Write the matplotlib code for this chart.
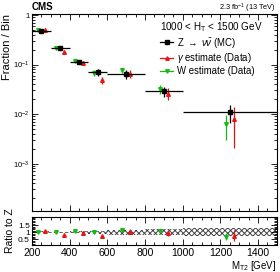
import numpy as np
import matplotlib
matplotlib.use("Agg")
import matplotlib.pyplot as plt
from matplotlib.ticker import MultipleLocator, LogLocator, NullFormatter, FixedLocator
import matplotlib.lines as mlines

plt.rcParams['font.family'] = ['Liberation Sans', 'DejaVu Sans']
plt.rcParams['mathtext.fontset'] = 'custom'
plt.rcParams['mathtext.rm'] = 'Liberation Sans'
plt.rcParams['mathtext.it'] = 'Liberation Sans:italic'
plt.rcParams['mathtext.bf'] = 'Liberation Sans:bold'
plt.rcParams['hatch.linewidth'] = 0.7

# ---- data ----
bin_edges = [200, 300, 400, 500, 600, 800, 1000, 1500]
z_mc = [0.48, 0.218, 0.112, 0.070, 0.064, 0.029, 0.0108]
z_err = [0.05, 0.016, 0.010, 0.010, 0.012, 0.007, 0.0043]
w_est = [0.50, 0.22, 0.12, 0.068, 0.077, 0.032, 0.0063]
w_err = [0.03, 0.012, 0.008, 0.009, 0.010, 0.006, 0.0033]
g_est = [0.51, 0.18, 0.11, 0.049, 0.066, 0.026, 0.0081]
g_err = [0.04, 0.015, 0.010, 0.008, 0.012, 0.007, 0.0060]
ratio_w = [1.03, 1.00, 1.08, 1.00, 1.17, 1.12, 0.65]
ratio_w_err = [0.06, 0.04, 0.06, 0.08, 0.12, 0.14, 0.22]
ratio_g = [1.06, 0.84, 0.97, 0.75, 1.05, 0.93, 0.77]
ratio_g_err = [0.08, 0.08, 0.10, 0.12, 0.16, 0.22, 0.40]
z_band = [0.07, 0.05, 0.07, 0.10, 0.19, 0.21, 0.27]
x_ticks = [200, 400, 600, 800, 1000, 1200, 1400]

edges = np.array(bin_edges, dtype=float)
centers = 0.5 * (edges[:-1] + edges[1:])
halfw = 0.5 * (edges[1:] - edges[:-1])
off = 20

fig = plt.figure(figsize=(2.8, 2.72), dpi=100)
ax = fig.add_axes([0.114, 0.224, 0.875, 0.723])
axr = fig.add_axes([0.114, 0.099, 0.875, 0.105])

# main panel
ax.errorbar(centers, z_mc, yerr=z_err, xerr=halfw, fmt='s', color='black',
            ms=3.5, lw=0.9, capsize=0, zorder=3)
ax.errorbar(centers + off, g_est, yerr=g_err, fmt='^', color='#ee1111',
            ms=2.6, lw=0.9, capsize=0, zorder=2)
ax.errorbar(centers - off, w_est, yerr=w_err, fmt='v', color='#11bb11',
            ms=2.6, lw=0.9, capsize=0, zorder=2)
ax.set_yscale('log')
ax.set_xlim(200, 1500)
ax.set_ylim(1.1e-4, 1.03)
ax.yaxis.set_major_locator(FixedLocator([1e-3, 1e-2, 1e-1, 1]))
ax.yaxis.set_minor_locator(LogLocator(base=10, subs=np.arange(2, 10), numticks=20))
ax.yaxis.set_minor_formatter(NullFormatter())
ax.set_yticklabels(['$10^{-3}$', '$10^{-2}$', '$10^{-1}$', '1'])
ax.xaxis.set_major_locator(MultipleLocator(200))
ax.xaxis.set_minor_locator(MultipleLocator(50))
ax.tick_params(axis='x', labelbottom=False)
for a in (ax, axr):
    a.tick_params(which='both', direction='in', top=True, right=True, width=0.6)
    a.tick_params(which='major', length=4)
    a.tick_params(which='minor', length=2)
    for s in a.spines.values():
        s.set_linewidth(0.8)
ax.tick_params(axis='y', labelsize=5.5, pad=1.5)
ax.text(-0.082, 1.0, 'Fraction / Bin', fontsize=8, rotation=90,
        rotation_mode='anchor', ha='right', va='bottom', transform=ax.transAxes)

# legend
h_z = mlines.Line2D([], [], color='black', marker='s', ms=3, lw=0.9)
h_g = mlines.Line2D([], [], color='#ee1111', marker='^', ms=2.5, lw=0.9)
h_w = mlines.Line2D([], [], color='#11bb11', marker='v', ms=2.5, lw=0.9)
leg = ax.legend([h_z, h_g, h_w],
                [r'Z $\rightarrow$ $\nu\bar{\nu}$ (MC)', r'$\gamma$ estimate (Data)',
                 'W estimate (Data)'],
                title=r'1000 < $\mathrm{H_T}$ < 1500 GeV',
                loc='upper left', bbox_to_anchor=(0.52, 0.975), frameon=False,
                fontsize=6.9, title_fontsize=7.1, handlelength=1.3, handletextpad=0.4,
                labelspacing=0.15, borderpad=0.1, borderaxespad=0)
leg._legend_box.align = 'left'

fig.text(0.114, 0.962, 'CMS', fontsize=7, fontweight='bold', ha='left', va='baseline')
fig.text(0.985, 0.962, r'2.3 fb$^{-1}$ (13 TeV)', fontsize=5.3, ha='right', va='baseline')

# ratio panel
axr.stairs(1 + np.array(z_band), edges, baseline=1 - np.array(z_band), fill=True,
           facecolor='none', edgecolor='#444444', hatch='xxxxxx', lw=0)
axr.errorbar(centers - off, ratio_w, yerr=ratio_w_err, fmt='v', color='#11bb11',
             ms=2.6, lw=0.9, capsize=0)
axr.errorbar(centers + off, ratio_g, yerr=ratio_g_err, fmt='^', color='#ee1111',
             ms=2.6, lw=0.9, capsize=0)
axr.set_xlim(200, 1500)
axr.set_ylim(0.1, 2.1)
axr.yaxis.set_major_locator(FixedLocator([0.5, 1.0, 1.5]))
axr.set_yticklabels(['0.5', '1', '1.5'])
axr.yaxis.set_minor_locator(FixedLocator([0.2, 0.3, 0.4, 0.6, 0.7, 0.8, 0.9, 1.1, 1.2, 1.3, 1.4, 1.6, 1.7, 1.8, 1.9, 2.0]))
axr.xaxis.set_major_locator(FixedLocator(x_ticks))
axr.xaxis.set_minor_locator(MultipleLocator(50))
axr.tick_params(axis='y', labelsize=6, pad=1.5)
axr.tick_params(axis='x', labelsize=7.5, pad=2)
axr.set_ylabel('Ratio to Z', fontsize=7.5, labelpad=2)
axr.set_xlabel(r'$\mathrm{M_{T2}}$ [GeV]', fontsize=7, loc='right', labelpad=1)

fig.savefig('out.png', dpi=100)
